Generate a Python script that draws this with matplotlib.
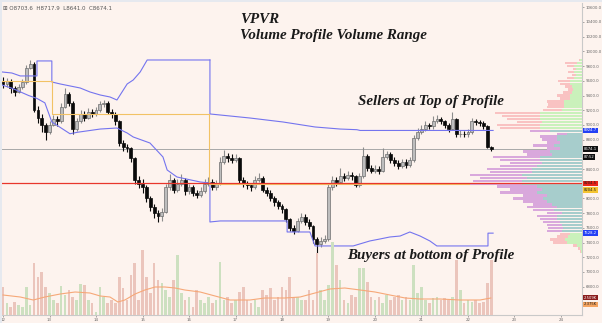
import matplotlib
matplotlib.use('Agg')
import matplotlib.pyplot as plt
from matplotlib.patches import Rectangle
from matplotlib.transforms import blended_transform_factory
import numpy as np

# ---- 2h candles, x = day of month (Dec 12 .. Dec 22 12:00) ----
first_open = 9600
closes = [9560, 9600, 9500, 9450, 9520, 9580, 9780, 9830, 9200, 9100, 9000, 8900,
          9000, 9080, 9050, 9250, 9420, 9300, 8950, 9050, 9150, 9100, 9180, 9150,
          9200, 9280, 9300, 9180, 9150, 9050, 8750, 8700, 8680, 8550, 8250, 8200,
          8150, 8000, 7880, 7800, 7760, 7820, 8150, 8250, 8120, 8200, 8250, 8100,
          8150, 8080, 8050, 8100, 8200, 8230, 8150, 8200, 8500, 8580, 8550, 8520,
          8550, 8250, 8200, 8180, 8150, 8250, 8280, 8120, 8080, 8000, 7950, 7900,
          7850, 7720, 7600, 7560, 7700, 7750, 7680, 7620, 7450, 7380, 7420, 7450,
          8150, 8250, 8220, 8300, 8280, 8320, 8300, 8180, 8300, 8580, 8420, 8380,
          8400, 8380, 8560, 8600, 8520, 8480, 8440, 8500, 8460, 8520, 8820, 8900,
          8950, 9000, 8980, 9060, 9080, 9050, 9000, 8950, 9080, 8870, 8880, 8870,
          8900, 9050, 9040, 9020, 8980, 8703.6, 8674.1]
highs = [9650, 9640, 9620, 9530, 9560, 9620, 9820, 9880, 9850, 9260, 9150, 9020,
         9060, 9130, 9120, 9300, 9500, 9450, 9320, 9100, 9200, 9190, 9230, 9220,
         9240, 9320, 9340, 9320, 9210, 9170, 9070, 8790, 8740, 8700, 8570, 8300,
         8260, 8180, 8030, 7920, 7840, 7870, 8200, 8330, 8280, 8260, 8330, 8280,
         8200, 8180, 8120, 8150, 8260, 8290, 8260, 8250, 8560, 8660, 8620, 8600,
         8610, 8570, 8290, 8240, 8210, 8300, 8340, 8300, 8150, 8110, 8030, 7980,
         7930, 7870, 7740, 7640, 7740, 7800, 7790, 7720, 7640, 7470, 7470, 7500,
         8200, 8300, 8290, 8420, 8340, 8370, 8360, 8320, 8340, 8700, 8600, 8460,
         8450, 8440, 8690, 8650, 8630, 8560, 8520, 8540, 8530, 8560, 8860, 8960,
         9000, 9050, 9030, 9120, 9140, 9110, 9070, 9020, 9175, 9100, 8930, 8920,
         8950, 9090, 9080, 9070, 9050, 9000, 8717.9]
lows = [9500, 9520, 9440, 9400, 9430, 9490, 9560, 9760, 9180, 9030, 8900, 8800,
        8870, 8980, 8990, 9030, 9230, 9260, 8880, 8920, 9020, 9050, 9080, 9110,
        9120, 9170, 9240, 9150, 9100, 9000, 8720, 8650, 8630, 8500, 8200, 8140,
        8080, 7950, 7830, 7730, 7680, 7700, 7800, 8120, 8080, 8090, 8170, 8050,
        8060, 8030, 8000, 8020, 8080, 8170, 8110, 8120, 8180, 8470, 8500, 8480,
        8490, 8200, 8150, 8130, 8100, 8130, 8230, 8090, 8030, 7960, 7900, 7850,
        7800, 7680, 7560, 7520, 7540, 7660, 7640, 7580, 7400, 7260, 7340, 7390,
        7420, 8110, 8170, 8190, 8240, 8250, 8250, 8150, 8150, 8280, 8380, 8340,
        8340, 8330, 8360, 8530, 8480, 8440, 8400, 8410, 8420, 8430, 8500, 8800,
        8870, 8920, 8940, 8950, 9030, 9010, 8960, 8910, 8930, 8840, 8830, 8830,
        8840, 8880, 9000, 8990, 8950, 8680, 8641.0]
# volume per candle, thousands
volumes = [2.8, 1.2, 0.8, 1.3, 1.0, 0.8, 2.8, 1.0, 5.2, 3.8, 4.3, 2.8,
           2.2, 1.5, 1.2, 2.9, 2.0, 2.5, 1.8, 1.5, 3.1, 3.0, 1.5, 1.2,
           0.3, 2.8, 1.8, 1.2, 1.5, 1.2, 3.8, 2.7, 1.5, 4.0, 5.2, 1.5,
           6.5, 3.8, 2.2, 5.2, 3.5, 3.2, 2.5, 1.8, 3.5, 6.0, 2.2, 1.5,
           1.8, 0.8, 2.5, 1.5, 1.2, 1.8, 1.2, 1.5, 5.3, 1.5, 1.8, 1.2,
           1.5, 2.3, 2.8, 1.5, 1.2, 1.5, 0.8, 2.5, 2.0, 2.7, 1.5, 1.8,
           2.8, 2.5, 3.8, 1.8, 1.8, 1.5, 1.5, 2.5, 1.5, 6.2, 2.5, 1.5,
           3.0, 7.3, 5.0, 3.5, 1.5, 1.2, 2.0, 1.8, 4.7, 4.7, 3.3, 1.8,
           1.5, 1.8, 1.2, 2.0, 1.5, 1.8, 2.0, 1.5, 1.8, 1.5, 5.0, 2.2,
           2.8, 1.5, 1.2, 1.7, 1.8, 1.5, 1.7, 1.5, 1.8, 5.5, 2.5, 1.2,
           1.5, 1.3, 1.5, 1.2, 1.3, 3.2, 5.5]
# volume moving average
ma_days = [12.0, 12.37, 12.65, 12.90, 13.23, 13.55, 13.87, 14.09, 14.30, 14.47, 14.62, 14.84,
           15.05, 15.27, 15.48, 15.70, 15.91, 16.24, 16.56, 16.88, 17.31, 17.63, 18.06, 18.39,
           18.71, 19.03, 19.35, 19.68, 20.00, 20.32, 20.65, 20.97, 21.40, 21.83, 22.26, 22.49]
ma_vals = [2.0, 1.8, 1.5, 1.8, 2.1, 2.3, 2.2, 1.9, 1.8, 1.3, 1.5, 2.1,
           2.5, 2.8, 2.8, 2.7, 2.5, 2.3, 1.9, 1.5, 1.5, 1.7, 1.7, 1.8,
           2.2, 2.6, 2.7, 2.5, 2.3, 2.0, 1.7, 1.6, 1.6, 1.5, 1.5, 1.7]

# ---- developing value area / POC lines (day, price) ----
vah1_days = [11.98, 12.19, 12.37, 12.73, 12.73, 13.05, 13.05, 13.23, 13.44, 13.66, 13.87, 14.09,
             14.30, 14.45, 14.56, 14.67, 14.80, 14.95, 15.10, 16.45]
vah1_px = [9720, 9706, 9666, 9666, 9870, 9870, 9584, 9557, 9530, 9502, 9448, 9407,
           9380, 9339, 9448, 9557, 9611, 9720, 9883, 9883]
val1_days = [11.98, 12.19, 12.37, 12.55, 12.73, 12.90, 13.05, 13.44, 13.60, 14.09, 14.45, 14.67,
             14.80, 15.16, 15.44, 15.53, 15.74, 16.24, 16.45]
val1_px = [9542, 9500, 9450, 9400, 9360, 9300, 9040, 8880, 8900, 8944, 8958, 8890,
           8836, 8754, 8564, 8387, 8292, 8224, 8210]
vah2_days = [16.45, 16.45, 17.31, 18.02, 18.71, 19.25, 19.61, 19.68, 22.54]
vah2_px = [9883, 9149, 9094, 9040, 8972, 8944, 8935, 8924.7, 8924.7]
val2_days = [16.45, 16.45, 16.67, 18.11, 18.11, 18.60, 18.71, 19.53, 19.89, 20.11, 20.32, 20.54,
             20.75, 20.97, 21.18, 21.33, 22.43, 22.43, 22.54]
val2_px = [8210, 7680, 7694, 7694, 7544, 7544, 7354, 7354, 7422, 7449, 7476, 7489,
           7544, 7489, 7422, 7354, 7354, 7528.2, 7528.2]
poc_days = [11.98, 13.05, 13.05, 16.43, 16.43, 22.54]
poc_px = [9597, 9597, 9149, 9149, 8198, 8198]

# ---- visible range volume profile (rows top -> bottom) ----
row_prices = np.arange(9880, 7279, -40)
row_total = [3, 17, 15, 9, 14, 10, 15, 24, 22, 17, 14, 19, 25, 22, 35, 34, 35, 39, 87, 80,
             75, 65, 85, 82, 52, 25, 42, 40, 35, 49, 35, 59, 55, 89, 82, 72, 82, 95, 92, 112,
             102, 109, 112, 85, 72, 82, 59, 69, 59, 49, 55, 49, 35, 45, 42, 39, 35, 34, 35, 22,
             25, 32, 29, 9, 4, 2]
row_up = [2, 5, 8, 6, 8, 6, 8, 12, 12, 10, 9, 10, 12, 12, 18, 18, 18, 20, 42, 42,
          42, 40, 42, 42, 32, 15, 25, 25, 22, 28, 22, 32, 30, 42, 42, 40, 45, 50, 50, 60,
          55, 60, 60, 45, 40, 45, 35, 39, 35, 30, 25, 28, 20, 25, 25, 22, 20, 19, 20, 12,
          14, 17, 15, 5, 2, 1]
vah, val, poc = 8924.7, 7528.2, 8204.5
last_close = 8674.1
price_ticks = np.arange(6800, 10601, 200)
hidden_ticks = [8600, 8200]   # covered by the price tags on the scale

bg = "#fdf3ee"
fig = plt.figure(figsize=(6.02, 3.23), dpi=100, facecolor=bg)
W, H = 602, 323
ax = fig.add_axes([2 / W, 8 / H, 580 / W, 312 / H])
ax.set_facecolor(bg)

n = len(closes)
t = 12 + np.arange(n) / 12.0
c = np.array(closes)
o = np.r_[first_open, c[:-1]]
up = c >= o

# volume (bottom overlay)
axv = ax.twinx()
axv.set_ylim(0, 31.2)
axv.bar(t, volumes, width=0.058, color=np.where(up, "#cde0c0", "#ebc5bc"), zorder=1)
axv.plot(ma_days, ma_vals, color="#f6a878", lw=0.8, zorder=2)
axv.axis("off")

# candles
ax.vlines(t, lows, highs, colors=np.where(up, "#8c8c8c", "#0a0a0a"), lw=0.8, zorder=3)
ax.bar(t, c - o, bottom=o, width=0.06, color=np.where(up, "#bdbdbd", "#0a0a0a"),
       edgecolor=np.where(up, "#6e6e6e", "#0a0a0a"), lw=0.5, zorder=4)

blue = "#7474ee"
ax.plot(vah1_days, vah1_px, color=blue, lw=0.8, zorder=5)
ax.plot(val1_days, val1_px, color=blue, lw=0.8, zorder=5)
ax.plot(vah2_days, vah2_px, color=blue, lw=0.8, zorder=5)
ax.plot(val2_days, val2_px, color=blue, lw=0.8, zorder=5)
ax.plot(poc_days, poc_px, color="#f2c265", lw=0.8, zorder=5)
ax.axhline(last_close, color="#a8a8a8", lw=0.7, zorder=2)

ax.set_xlim(11.978, 24.452)
ax.set_ylim(6415, 10658)

# profile
axp = ax.twiny()
axp.set_xlim(580, 0)
in_va = (row_prices <= vah) & (row_prices >= val)
axp.barh(row_prices, row_total, height=33, left=0,
         color=np.where(in_va, "#d9a8dc", "#f9c2c2"), zorder=1)
axp.barh(row_prices, row_up, height=33, left=0,
         color=np.where(in_va, "#a7cdcc", "#caf1bb"), zorder=2)
axp.axhline(poc, color="#e8362c", lw=0.9, zorder=3)
axp.axis("off")

# axes styling
for s in ["top", "left"]:
    ax.spines[s].set_visible(False)
ax.spines["right"].set_color("#c9c9c9")
ax.spines["bottom"].set_color("#c9c9c9")
ax.yaxis.tick_right()
ax.set_yticks(price_ticks)
ax.set_yticklabels(["" if v in hidden_ticks else f"{v:.1f}" for v in price_ticks])
ax.set_xticks(range(12, 25))
ax.tick_params(axis="both", labelsize=2.8, colors="#666666", length=1.5, width=0.4, pad=1)

# annotations
tf = dict(family="Liberation Serif", fontweight="bold", fontstyle="italic",
          fontsize=10.8, color="#1a1a1a", zorder=10)
ax.text(17.10, 10427, "VPVR", ha="left", va="center", **tf)
ax.text(17.10, 10210, "Volume Profile Volume Range", ha="left", va="center", **tf)
ax.text(19.63, 9325, "Sellers at Top of Profile", ha="left", va="center", **tf)
ax.text(19.40, 7220, "Buyers at bottom of Profile", ha="left", va="center", **tf)

# price labels on the right scale
tr = blended_transform_factory(ax.transAxes, ax.transData)
def tag(y, s, fc, tc="white", trans=tr):
    ax.text(1.003, y, s, transform=trans, fontsize=2.7, color=tc, ha="left", va="center",
            bbox=dict(boxstyle="square,pad=0.2", fc=fc, ec="none"), zorder=12, clip_on=False)

tag(vah, "8924.7", "#2440f5")
tag(last_close, "8674.1", "#101010")
tag(8565, "87:52", "#101010")
tag(poc, "8204.5", "#e8251c", "#1a1a1a")
tag(8115, "8204.5", "#f4c430", "#1a1a1a")
tag(val, "7528.2", "#2440f5")
tag(0.056, "2.509K", "#8a1c1c", trans=ax.transAxes)
tag(0.034, "2.375K", "#f4a460", "#1a1a1a", trans=ax.transAxes)

fig.text(3 / W, 1 - 8 / H, "\u229e O8703.6  H8717.9  L8641.0  C8674.1",
         fontsize=4, color="#555555", va="center", ha="left")
fig.patches.append(Rectangle((0, 1 - 2 / H), 1, 2 / H, transform=fig.transFigure,
                             fc="#e6e9ef", ec="none", zorder=0))
fig.patches.append(Rectangle((0, 0), 2 / W, 1, transform=fig.transFigure,
                             fc="#e6e9ef", ec="none", zorder=0))

plt.savefig("out.png", dpi=100, facecolor=bg)
